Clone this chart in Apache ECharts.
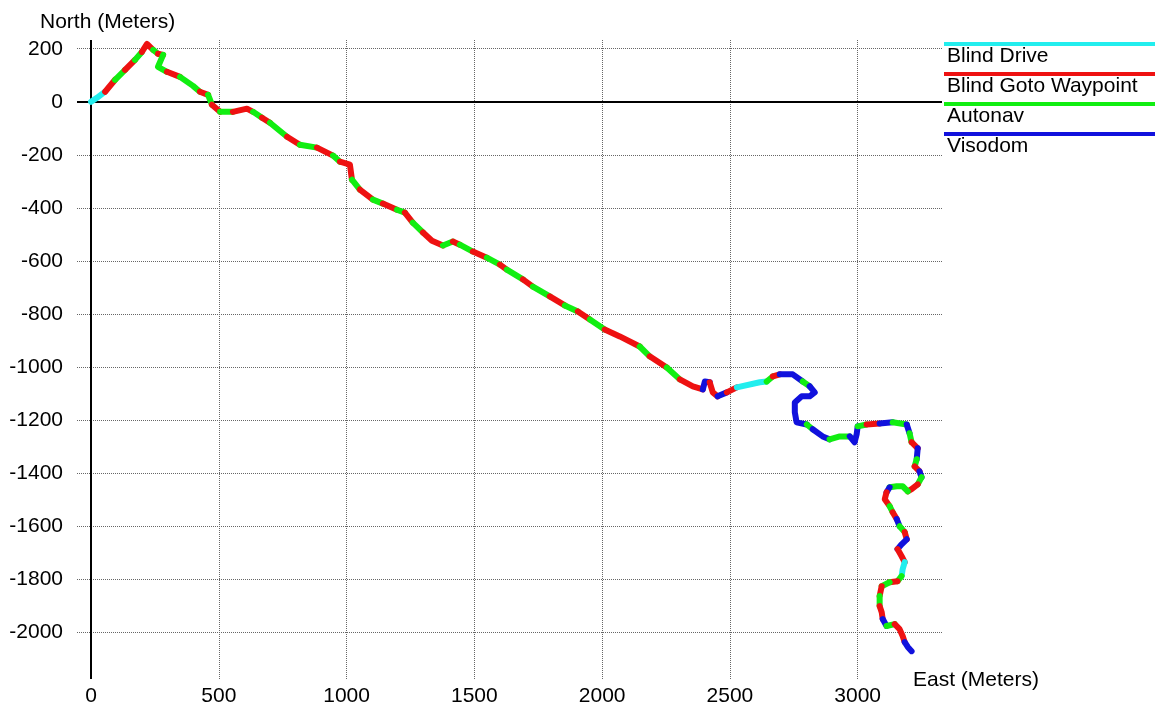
<!DOCTYPE html>
<html>
<head>
<meta charset="utf-8">
<script src="https://cdn.jsdelivr.net/npm/echarts/dist/echarts.min.js"></script>
<style>
html,body{margin:0;padding:0;background:#fff;}
#chart{width:1155px;height:707px;}
</style>
</head>
<body>
<div id="chart"></div>
<script>
// ---- Data ----
const xTicks = [0, 500, 1000, 1500, 2000, 2500, 3000];
const yTicks = [200, 0, -200, -400, -600, -800, -1000, -1200, -1400, -1600, -1800, -2000];
const modeNames = ['Blind Drive', 'Blind Goto Waypoint', 'Autonav', 'Visodom'];
const modeCodes = ['D', 'G', 'A', 'V'];

// traverse vertices (meters)
const east = [0, 23, 55, 94, 133, 172, 199, 219, 243, 262,
  282, 262, 297, 348, 399, 426, 458, 473, 505, 555,
  610, 634, 669, 700, 767, 817, 884, 947, 974, 1013,
  1021, 1052, 1103, 1142, 1197, 1228, 1259, 1299, 1334, 1377,
  1416, 1443, 1494, 1549, 1600, 1627, 1690, 1729, 1795, 1854,
  1905, 1952, 2010, 2069, 2147, 2186, 2253, 2304, 2355, 2394,
  2402, 2421, 2433, 2452, 2488, 2527, 2617, 2644, 2668, 2695,
  2746, 2785, 2812, 2832, 2812, 2781, 2754, 2754, 2761, 2801,
  2824, 2863, 2890, 2930, 2969, 2988, 2996, 3000, 3035, 3086,
  3137, 3192, 3203, 3211, 3235, 3231, 3223, 3242, 3250, 3235,
  3211, 3196, 3176, 3153, 3125, 3113, 3106, 3125, 3137, 3153,
  3164, 3184, 3192, 3172, 3156, 3172, 3184, 3176, 3172, 3156,
  3125, 3094, 3086, 3086, 3094, 3098, 3113, 3145, 3164, 3176,
  3184, 3196, 3211];
const north = [0, 15, 38, 83, 120, 158, 188, 218, 196, 181,
  177, 132, 113, 94, 60, 38, 26, -11, -38, -38,
  -26, -38, -60, -79, -132, -162, -173, -203, -226, -237,
  -294, -331, -369, -384, -407, -418, -456, -493, -524, -542,
  -527, -539, -565, -588, -614, -633, -670, -697, -734, -768,
  -791, -821, -859, -885, -923, -960, -1002, -1047, -1073, -1085,
  -1055, -1058, -1096, -1111, -1096, -1077, -1058, -1055, -1036, -1028,
  -1028, -1055, -1073, -1096, -1111, -1111, -1134, -1171, -1209, -1217,
  -1235, -1262, -1273, -1262, -1262, -1284, -1254, -1224, -1217, -1213,
  -1209, -1217, -1250, -1284, -1307, -1348, -1375, -1394, -1416, -1443,
  -1461, -1469, -1450, -1450, -1454, -1473, -1499, -1525, -1548, -1574,
  -1601, -1623, -1650, -1669, -1687, -1714, -1736, -1763, -1789, -1808,
  -1812, -1827, -1864, -1902, -1925, -1951, -1977, -1970, -1989, -2015,
  -2038, -2056, -2072];
// drive mode of each leg between consecutive vertices
const segmentMode = [
  'D','D','G','A','G','A','G','G','A','G',
  'A','A','G','A','A','G','A','G','A','G',
  'G','A','G','A','G','A','G','A','G','G',
  'A','G','A','G','A','G','A','G','G','A',
  'G','A','G','A','G','A','G','A','G','A',
  'G','A','G','G','A','G','A','G','G','V',
  'V','G','G','V','G','D','D','A','G','V',
  'V','A','V','V','V','V','V','V','V','A',
  'V','V','A','A','V','V','V','A','G','V',
  'A','V','A','G','V','A','G','V','A','G',
  'G','A','A','A','V','G','G','A','G','V',
  'A','G','V','V','G','G','D','D','A','G',
  'A','G','A','G','G','V','A','G','G','G',
  'V','V'];

// ---- Style ----
const FONT = '"Liberation Sans", Arial, Helvetica, sans-serif';
const modeColors = { D: '#22eeee', G: '#ee1111', A: '#11ee11', V: '#1111dd' };

// build runs of identical mode
const runs = [];
let cur = null;
for (let i = 0; i < segmentMode.length; i++) {
  const m = segmentMode[i];
  if (!cur || cur.mode !== m) {
    cur = { mode: m, coords: [[east[i], north[i]]] };
    runs.push(cur);
  }
  cur.coords.push([east[i + 1], north[i + 1]]);
}

const chart = echarts.init(document.getElementById('chart'), null, { renderer: 'canvas' });

const legendGraphics = [];
modeNames.forEach((name, i) => {
  const y0 = 44 + i * 30;
  legendGraphics.push({
    type: 'line', shape: { x1: 944, y1: y0, x2: 1155, y2: y0 },
    style: { stroke: modeColors[modeCodes[i]], lineWidth: 4 }, z: 10
  });
  legendGraphics.push({
    type: 'text', x: 947, y: y0 + 12,
    style: { text: name, fill: '#000', font: '21px ' + FONT, textVerticalAlign: 'middle', verticalAlign: 'middle' }, z: 10
  });
});

const option = {
  animation: false,
  backgroundColor: '#fff',
  grid: { left: 77, right: 213, top: 40, bottom: 27, containLabel: false },
  xAxis: {
    type: 'value', min: -55, max: 3330, position: 'bottom',
    axisLine: { show: false, onZero: false },
    axisTick: { show: false, customValues: xTicks },
    axisLabel: { customValues: xTicks, formatter: v => String(v), fontSize: 21, fontFamily: FONT, color: '#000', margin: 7 },
    splitLine: { show: true, lineStyle: { type: 'dotted', color: '#666', width: 1 } }
  },
  yAxis: {
    type: 'value', min: -2177, max: 233,
    axisLine: { show: false, onZero: false },
    axisTick: { show: false, customValues: yTicks },
    axisLabel: { customValues: yTicks, formatter: v => String(v), fontSize: 21, fontFamily: FONT, color: '#000', margin: 14 },
    splitLine: { show: true, lineStyle: { type: 'dotted', color: '#666', width: 1 } }
  },
  graphic: [
    { type: 'text', x: 40, y: 22, style: { text: 'North (Meters)', fill: '#000', font: '21px ' + FONT, verticalAlign: 'middle', textVerticalAlign: 'middle' } },
    { type: 'text', x: 913, y: 680, style: { text: 'East (Meters)', fill: '#000', font: '21px ' + FONT, verticalAlign: 'middle', textVerticalAlign: 'middle' } }
  ].concat(legendGraphics),
  series: [
    {
      type: 'line', data: [[0, 0]], symbol: 'none', silent: true, z: 1,
      lineStyle: { opacity: 0 },
      markLine: {
        silent: true, symbol: 'none', animation: false,
        label: { show: false },
        lineStyle: { color: '#000', type: 'solid', width: 2 },
        data: [{ yAxis: 0 }, { xAxis: 0 }]
      }
    },
    {
      type: 'lines', coordinateSystem: 'cartesian2d', polyline: true, z: 5, silent: true,
      lineStyle: { width: 6, cap: 'round', join: 'round', opacity: 1 },
      data: runs.map(r => ({ coords: r.coords, lineStyle: { color: modeColors[r.mode] } }))
    }
  ]
};
chart.setOption(option);
</script>
</body>
</html>
